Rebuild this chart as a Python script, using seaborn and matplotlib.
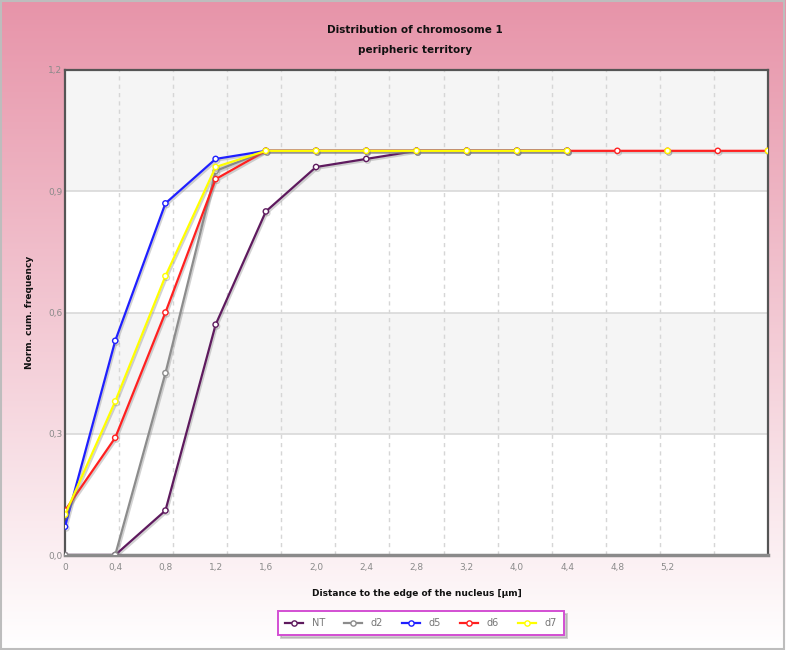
import numpy as np
import pandas as pd
import matplotlib
matplotlib.use("Agg")
import matplotlib.pyplot as plt
import matplotlib.patheffects as pe
from matplotlib.ticker import MultipleLocator
from matplotlib.lines import Line2D
import seaborn as sns

# ---- data ----
x_labels = ["0", "0,4", "0,8", "1,2", "1,6", "2,0", "2,4", "2,8", "3,2",
            "4,0", "4,4", "4,8", "5,2", "", ""]
y_labels = ["0,0", "0,3", "0,6", "0,9", "1,2"]
y_ticks = [0.0, 0.3, 0.6, 0.9, 1.2]
series_names = ["NT", "d2", "d5", "d6", "d7"]
nan = np.nan
NT = [0.0, 0.0, 0.11, 0.57, 0.85, 0.96, 0.98, 1.0, 1.0, 1.0, 1.0, nan, nan, nan, nan]
d2 = [0.0, 0.0, 0.45, 0.95, 1.0, 1.0, 1.0, 1.0, 1.0, 1.0, 1.0, nan, nan, nan, nan]
d5 = [0.07, 0.53, 0.87, 0.98, 1.0, 1.0, 1.0, 1.0, 1.0, 1.0, 1.0, nan, nan, nan, nan]
d6 = [0.11, 0.29, 0.60, 0.93, 1.0, 1.0, 1.0, 1.0, 1.0, 1.0, 1.0, 1.0, 1.0, 1.0, 1.0]
d7 = [0.10, 0.38, 0.69, 0.96, 1.0, 1.0, 1.0, 1.0, 1.0, 1.0, 1.0, nan, 1.0, nan, 1.0]
colors = {"NT": "#5e1a5e", "d2": "#8c8c8c", "d5": "#1f1fff", "d6": "#ff2020", "d7": "#ffff00"}

values = {"NT": NT, "d2": d2, "d5": d5, "d6": d6, "d7": d7}

# ---- figure ----
W, H = 786, 650
fig = plt.figure(figsize=(W / 100, H / 100), dpi=100)

# gradient background
bg = fig.add_axes([0, 0, 1, 1], zorder=-10)
top = np.array([231, 148, 169]) / 255
bot = np.array([255, 255, 255]) / 255
t = np.linspace(0, 1, 256)[:, None]
grad = top[None, :] * (1 - t) + bot[None, :] * t
grad = np.clip(grad, 0, 1)
grad = np.repeat(grad[:, None, :], 2, axis=1)
bg.imshow(grad, aspect="auto", extent=[0, 1, 0, 1], origin="upper")
bg.set_axis_off()
bg.add_patch(plt.Rectangle((0.001, 0.002), 0.997, 0.996, fill=False,
                           edgecolor="#bdbdbd", lw=1.5, transform=bg.transAxes))

ax = fig.add_axes([65 / W, 1 - 555 / H, (768 - 65) / W, (555 - 70) / H])
ax.set_facecolor("white")

n = len(x_labels)
ax.set_xlim(0, n - 1)
ax.set_ylim(0, 1.2)

# alternating bands
for i in range(len(y_ticks) - 1):
    if i % 2 == 1:
        ax.axhspan(y_ticks[i], y_ticks[i + 1], color="#f5f5f5", zorder=0, lw=0)

shadow = [pe.SimpleLineShadow(offset=(1.0, -1.2), shadow_color="#808080", alpha=0.35), pe.Normal()]

for name in series_names:
    vals = np.array(values[name], dtype=float)
    idx = np.arange(n)
    runs = []
    cur = []
    for i, v in zip(idx, vals):
        if np.isnan(v):
            if cur:
                runs.append(cur)
                cur = []
        else:
            cur.append(i)
    if cur:
        runs.append(cur)
    for r in runs:
        df = pd.DataFrame({"x": r, "y": vals[r]})
        sns.lineplot(data=df, x="x", y="y", ax=ax, color=colors[name], lw=1.6,
                     marker="o", markersize=3.8, markerfacecolor="white",
                     markeredgecolor=colors[name], markeredgewidth=1.0,
                     path_effects=shadow, zorder=3, legend=False)

# axes styling
ax.set_xticks(range(n))
ax.set_xticklabels(x_labels)
ax.set_yticks(y_ticks)
ax.set_yticklabels(y_labels)
ax.xaxis.set_minor_locator(MultipleLocator((n - 1) / 13))
ax.grid(False)
ax.grid(which="minor", axis="x", color="#d6d6d6", ls=(0, (3, 3)), lw=1, zorder=1)
ax.grid(which="major", axis="y", color="#d9d9d9", ls="-", lw=1.2, zorder=1)
ax.set_axisbelow(True)
ax.tick_params(which="both", length=0)
ax.tick_params(axis="x", labelsize=6.5, labelcolor="#8a8a8a", pad=6)
ax.tick_params(axis="y", labelsize=6.5, labelcolor="#8a8a8a", pad=2)
for s in ["left", "top", "right"]:
    ax.spines[s].set_color("#555555")
    ax.spines[s].set_linewidth(1.6)
ax.spines["bottom"].set_color("#8a8a8a")
ax.spines["bottom"].set_linewidth(2.5)

ax.set_xlabel("Distance to the edge of the nucleus [µm]", fontsize=6.5,
              fontweight="bold", labelpad=12, color="#111111")
ax.set_ylabel("Norm. cum. frequency", fontsize=6.5, fontweight="bold",
              labelpad=10, color="#111111")

fig.text(415 / W, 1 - 30 / H, "Distribution of chromosome 1", ha="center", va="center",
         fontsize=7.5, fontweight="bold", color="#111111")
fig.text(415 / W, 1 - 50 / H, "peripheric territory", ha="center", va="center",
         fontsize=7.5, fontweight="bold", color="#111111")

handles = [Line2D([0], [0], color=colors[nm], lw=1.6, marker="o", markersize=3.8,
                  markerfacecolor="white", markeredgecolor=colors[nm], markeredgewidth=1.0)
           for nm in series_names]
leg = fig.legend(handles, series_names, loc="center", bbox_to_anchor=(421 / W, 1 - 623 / H),
                 ncol=5, fontsize=7, frameon=True, fancybox=False,
                 shadow={"color": "#9a9a9a", "alpha": 0.45},
                 handlelength=1.9, columnspacing=1.9, handletextpad=0.9,
                 borderpad=0.7)
leg.get_frame().set_edgecolor("#d34fd3")
leg.get_frame().set_linewidth(1.4)
leg.get_frame().set_facecolor("white")
for txt in leg.get_texts():
    txt.set_color("#777777")

fig.savefig("out.png", dpi=100)
